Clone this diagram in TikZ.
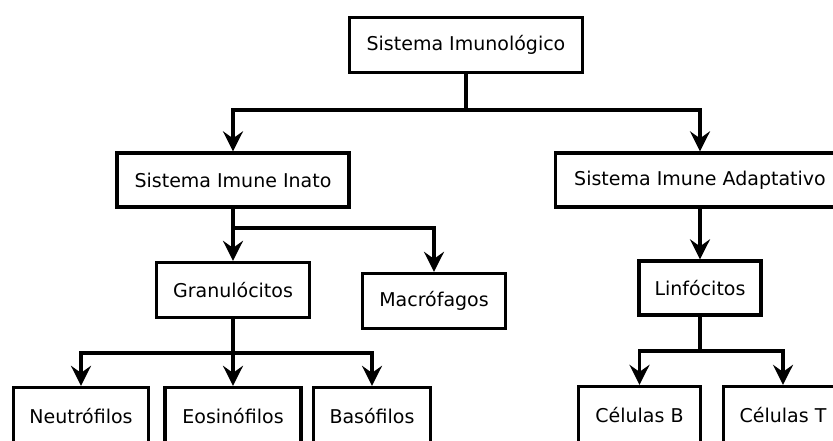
\documentclass[tikz,border=0pt]{standalone}
\usepackage{fontspec}
\setmainfont{DejaVu Sans}
\usetikzlibrary{arrows.meta}
\begin{document}
\begin{tikzpicture}[x=1pt,y=-1pt,
  box/.style={draw=black, line width=3.3pt, fill=white, inner sep=0pt,
    font=\fontsize{19}{23}\selectfont},
  arr/.style={draw=black, line width=3.3pt, -{Stealth[length=20pt,width=20pt,inset=7pt]}},
  link/.style={draw=black, line width=3.3pt}]
\useasboundingbox (0,0) rectangle (833,440);

% boxes
\node[box, minimum width=233pt, minimum height=55pt] (sys)   at (466,45)   {Sistema Imunológico};
\node[box, minimum width=232pt, minimum height=54pt] (inato) at (233,180)  {Sistema Imune Inato};
\node[box, minimum width=289pt, minimum height=54pt] (adapt) at (700,180)  {Sistema Imune Adaptativo};
\node[box, minimum width=153pt, minimum height=55pt] (gran)  at (233,290)  {Granulócitos};
\node[box, minimum width=143pt, minimum height=55pt] (macro) at (434,301)  {Macrófagos};
\node[box, minimum width=122pt, minimum height=54pt] (linf)  at (700,288)  {Linfócitos};
\node[box, minimum width=135pt, minimum height=57pt] (neut)  at (81,416)   {Neutrófilos};
\node[box, minimum width=136pt, minimum height=57pt] (eos)   at (233,416)  {Eosinófilos};
\node[box, minimum width=117pt, minimum height=57pt] (baso)  at (372,416)  {Basófilos};
\node[box, minimum width=122pt, minimum height=57pt] (celB)  at (639.5,415) {Células B};
\node[box, minimum width=119pt, minimum height=57pt] (celT)  at (783,415)  {Células T};

% junction points
\coordinate (j1) at (466,110);
\coordinate (j2) at (233,228);
\coordinate (j3) at (233,353);
\coordinate (j4) at (700,351);

% connectors
\draw[link] (sys.south) -- (j1);
\draw[arr] (j1) -| (inato.north);
\draw[arr] (j1) -| (adapt.north);

\draw[link] (inato.south) -- (j2);
\draw[arr] (j2) -- (gran.north);
\draw[arr] (j2) -| (macro.north);

\draw[link] (gran.south) -- (j3);
\draw[arr] (j3) -- (eos.north);
\draw[arr] (j3) -| (neut.north);
\draw[arr] (j3) -| (baso.north);

\draw[arr] (adapt.south) -- (linf.north);

\draw[link] (linf.south) -- (j4);
\draw[arr] (j4) -| (celB.north);
\draw[arr] (j4) -| (celT.north);
\end{tikzpicture}
\end{document}
